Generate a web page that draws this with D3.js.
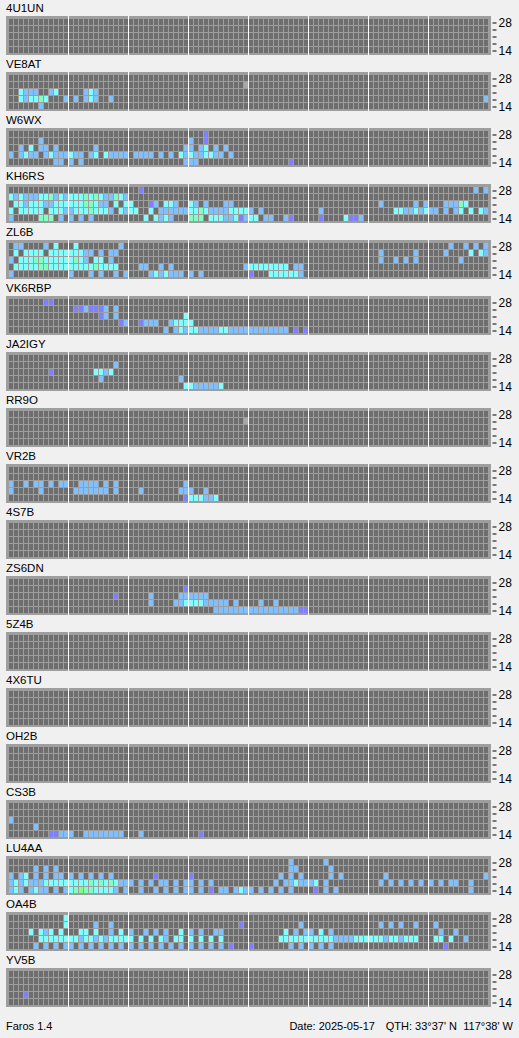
<!DOCTYPE html>
<html><head><meta charset="utf-8">
<script src="https://cdn.jsdelivr.net/npm/d3@7"></script>
<style>
html,body{margin:0;padding:0;background:#f0f0f0;}
svg{display:block;}
text{font-family:"Liberation Sans",Arial,sans-serif;}
</style></head><body>
<svg id="chart" width="519" height="1038"></svg>
<script>
// ---- data ----
const stations = ["4U1UN","VE8AT","W6WX","KH6RS","ZL6B","VK6RBP","JA2IGY","RR9O","VR2B","4S7B","ZS6DN","5Z4B","4X6TU","OH2B","CS3B","LU4AA","OA4B","YV5B"];
const bands = ["28","24","21","18","14"];          // rows, top to bottom (MHz)
const tickLabels = ["28","","","","14"];
const slotsPerDay = 96;                             // 15-minute slots
const footerLeft = "Faros 1.4";
const footerDate = "Date: 2025-05-17";
const footerQth = "QTH: 33°37' N";
const footerLon = "117°38' W";
// levels: . none, 1 weak(purple) 2 blue 3 cyan 4 mint 5 green, g = no data
// each row: 8 groups of 12 slots (3 hours each), separated by spaces
const d4U1UN = ["","","","",""];
const dVE8AT = [
 "",
 "............ ............ ............ ...........g",
 "..3222..23.. ...232......",
 "..323343...2 .2.232..2... ............ ............ ............ ............ ............ ...........2",
 "......2....."];
const dW6WX = [
 "............ ............ ............ ...1........",
 "......2..... ............ ............ 2..1........",
 "..2.3.22.2.. .....2...... ...........2 2.23.2.2....",
 "2.2322.23222 322.23.32222 .2222.2.2.32 3223322.2...",
 ".........22. 2.2......... ...........2 22.......... ........1..."];
const dKH6RS = [
 "............ ............ ..1......... ............ ............ ............ ............ .........2.2",
 "323222334232 333434322432",
 ".33233322333 33344322.3.3 3...12.332.. 32.2...22... ............ ............ ..2......2.2 ...22243....",
 "3.33333.3332 233343332.32 33..3.222222 334322223333 2.2......... ..2......... .....3322323 22.2.23.3.32",
 "2.....444.2. 2.2.2....... ...3.3232... 444.33322312 33.22..21... ..1....3112."];
const dZL6B = [
 ".22....2.3.. .3........2. ............ ............ ............ ............ ............ ....2..2.2.2",
 ".3.3333.3333 33322.2.22.. ............ ............ ............ ............ ..2......2.. ...2....3.32",
 "2.3334433333 3432.33.2... ............ ............ ............ ............ ..2..2.2.2.. ......2.....",
 ".33333443333 3333343333.. ..22..2.2... ...........2 33333333.22.",
 "2........... 2...2.2..2.2 ....2323222. 2.2......... 1...3333332."];
const dVK6RBP = [
 ".......11...",
 "............ .1121112.2..",
 "............ ......12.2.. ...........3",
 "............ ..........12 ..1222..2333 3...........",
 "............ ............ .......2.232 332222332222 22222222.1.1"];
const dJA2IGY = [
 "",
 "............ .........2..",
 "........1... .....3323...",
 "............ ......2..... ..........2.",
 "............ ............ ...........3 3222223....."];
const dRR9O = ["","............ ............ ............ ...........g","","",""];
const dVR2B = [
 "",
 "",
 "2..2.22.2.22 ..2222.2.2.. ...........2",
 "2.....2..... .2222222.2.. ..2.......22 2..2........",
 "............ ............ ...........1 333223......"];
const d4S7B = ["","","","",""];
const dZS6DN = [
 "",
 "............ ............ ...........1",
 "............ .........1.. ....2.....22 2222........",
 "............ ............ ....2....223 33322222.2.. ..2..2......",
 "............ ............ ............ .....2222222 222222222211"];
const d5Z4B = ["","","","",""];
const d4X6TU = ["","","","",""];
const dOH2B = ["","","","",""];
const dCS3B = [
 "",
 "",
 "2...........",
 ".....2......",
 "........1122 2..22222222. ..2......... ..1........."];
const dLU4AA = [
 "............ ............ ............ ............ ........2... ...2........",
 ".....2.2.2.. ............ ............ ............ ........22.. ....2.......",
 "2.23.2.2.22. 2.2.2.2.2... .....1...... 1........... ......2.2.2. ....2.2..... ...2........ ...........2",
 "232322233333 333343434322 2.2.2.22.2.2 2.2.2....... .....2.22322 23.2........ ..2.2.2.2.2. 2.2.22..2...",
 "232.2322.2.2 3454433332.2 ..2..2.2.2.2 2.2.1.22.232 2.2.2.2.2... .1.2.2...... ............ ........2..."];
const dOA4B = [
 "...........3",
 "...........3 .....2..2... ............ ..........1. ..........2. ............ ..2.2.2..2.. .2..........",
 "....3.323.3. ..33.3..2.3. 2..2.2.2..3. 2.2..22..... .......3.2.2 2.3.2....... ............ ..2..2......",
 "......333333 332332323333 3.3.3.32.33. 3.3.3.3..... ......333333 333332222333 3332332333.. .33.3..2....",
 ".....2.2.2.2 2.2.2.2.2.2. 2.2.2.2.2.2. 2.2.2.2.1... 1.......2.2. 2.2.2....... ............ ...1........"];
const dYV5B = ["","","","...1........",""];
const stationRows = [d4U1UN,dVE8AT,dW6WX,dKH6RS,dZL6B,dVK6RBP,dJA2IGY,dRR9O,dVR2B,d4S7B,dZS6DN,d5Z4B,d4X6TU,dOH2B,dCS3B,dLU4AA,dOA4B,dYV5B];

// ---- drawing ----
function parseRow(s){
  const groups = s.split(" ").filter(g=>g.length);
  const out = [];
  for(let g=0; g<8; g++){
    const grp = (groups[g]||"").padEnd(12,".").slice(0,12);
    for(const ch of grp) out.push(ch);
  }
  return out;
}
const FONT = '"Liberation Sans",Arial,sans-serif';
const svg = d3.select("#chart");
const panelTop = d3.scaleLinear().domain([0, stations.length-1]).range([16, 968]);
const colX = d3.scaleLinear().domain([0, slotsPerDay]).range([9, 489]);
const rowY = d3.scaleBand().domain(bands).range([3, 38]).paddingInner(0);
const color = d3.scaleOrdinal()
  .domain([".","1","2","3","4","5","g"])
  .range(["#6e6e6e","#8080ff","#80c0ff","#80ffff","#80ffc0","#80ff80","#a8a8a8"]);
const tickScale = d3.scalePoint().domain(bands).range([rowY("28")+3, rowY("14")+3]);

stations.forEach((name, i)=>{
  const top = Math.round(panelTop(i));
  const g = svg.append("g").attr("transform", `translate(0,${top})`);
  g.append("text").attr("x", 6).attr("y", -4).attr("font-size", 11.5).attr("fill","#000").text(name);
  g.append("rect").attr("x", 6).attr("y", 0).attr("width", 485).attr("height", 39).attr("fill", "#9e9e9e");
  const cells = [];
  stationRows[i].forEach((rowStr, r)=>{
    parseRow(rowStr).forEach((lv, c)=> cells.push({band: bands[r], c, lv}));
  });
  g.selectAll("rect.cell").data(cells).join("rect")
    .attr("class","cell")
    .attr("x", d=>colX(d.c)).attr("y", d=>rowY(d.band))
    .attr("width", 4).attr("height", 6)
    .attr("fill", d=>color(d.lv));
  g.selectAll("line.sep").data(d3.range(1,8)).join("line")
    .attr("class","sep")
    .attr("x1", d=>colX(d*12)-0.5).attr("x2", d=>colX(d*12)-0.5)
    .attr("y1", 0).attr("y2", 39)
    .attr("stroke", "#ffffff").attr("stroke-width", 1);
  const ax = d3.axisRight(tickScale).tickSize(4).tickPadding(2)
    .tickFormat((d,k)=>tickLabels[k]);
  const axg = g.append("g").attr("transform", "translate(492.5,0.5)").call(ax);
  axg.select(".domain").remove();
  axg.selectAll("text").attr("font-size", 12).attr("font-family", FONT).attr("fill","#000");
  axg.selectAll("line").attr("stroke","#000");
});

svg.append("text").attr("x", 6).attr("y", 1030).attr("font-size", 11).text(footerLeft);
svg.append("text").attr("x", 375).attr("y", 1030).attr("font-size", 11).attr("text-anchor","end").text(footerDate);
svg.append("text").attr("x", 457).attr("y", 1030).attr("font-size", 11).attr("text-anchor","end").text(footerQth);
svg.append("text").attr("x", 513).attr("y", 1030).attr("font-size", 11).attr("text-anchor","end").text(footerLon);
</script>
</body></html>
